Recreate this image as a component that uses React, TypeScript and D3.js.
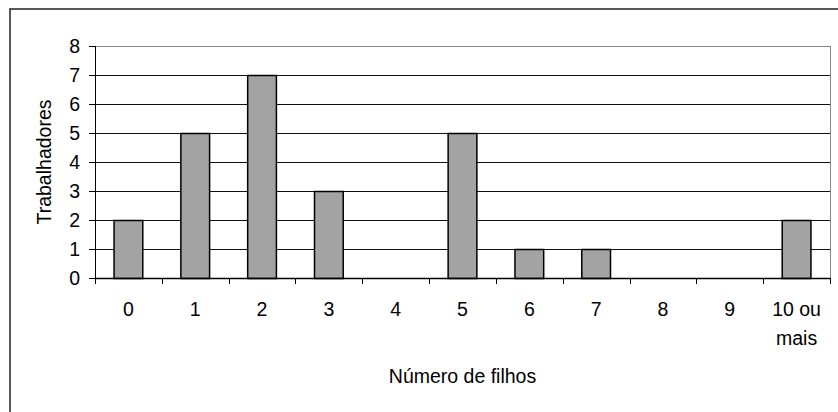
import React from "react";
import * as d3 from "d3";

const categories = ["0", "1", "2", "3", "4", "5", "6", "7", "8", "9", "10 ou|mais"];
const values = [2, 5, 7, 3, 0, 5, 1, 1, 0, 0, 2];
const yTicks = [0, 1, 2, 3, 4, 5, 6, 7, 8];
const xTitle = "Número de filhos";
const yTitle = "Trabalhadores";

export default function App() {
  const W = 838, H = 412;
  const left = 95, right = 830, top = 46, bottom = 278;
  const x = d3.scaleBand<string>().domain(categories).range([left, right]).paddingInner(0).paddingOuter(0);
  const y = d3.scaleLinear().domain([0, 8]).range([bottom, top]);
  const barW = x.bandwidth() * 0.43;
  const font = "Arial, 'Liberation Sans', sans-serif";
  const fs = 19.5;
  const h = 0.5;

  return (
    <svg width={W} height={H} style={{ position: "absolute", left: 0, top: 0, background: "#fff" }} fontFamily={font}>
      <rect x={10} y={9} width={850} height={450} fill="#fff" stroke="#222" strokeWidth={1.5} />
      {/* plot area border */}
      <rect x={left + h} y={top + h} width={right - left} height={bottom - top} fill="none" stroke="#888" strokeWidth={1} />
      {/* gridlines */}
      {yTicks.filter(t => t > 0 && t < 8).map(t => (
        <line key={t} x1={left} x2={right} y1={y(t) + h} y2={y(t) + h} stroke="#111" strokeWidth={1} />
      ))}
      {/* bars */}
      {categories.map((c, i) => values[i] > 0 ? (
        <rect key={c} x={x(c)! + (x.bandwidth() - barW) / 2} y={y(values[i]) + h} width={barW}
          height={bottom - y(values[i])} fill="#a3a3a3" stroke="#000" strokeWidth={1.5} />
      ) : null)}
      {/* axes */}
      <line x1={left + h} x2={left + h} y1={top} y2={bottom + 6} stroke="#000" strokeWidth={1} />
      <line x1={left} x2={right} y1={bottom + h} y2={bottom + h} stroke="#000" strokeWidth={1.3} />
      {yTicks.map(t => (
        <g key={t}>
          <line x1={left - 6} x2={left} y1={y(t) + h} y2={y(t) + h} stroke="#000" />
          <text x={80} y={y(t)} dy="0.36em" textAnchor="end" fontSize={fs}>{t}</text>
        </g>
      ))}
      {categories.map((c, i) => (
        <line key={"t" + i} x1={Math.round(x(c)!) + h} x2={Math.round(x(c)!) + h} y1={bottom} y2={bottom + 6} stroke="#000" />
      ))}
      <line x1={right + h} x2={right + h} y1={bottom} y2={bottom + 6} stroke="#000" />
      {categories.map(c => {
        const lines = c.split("|");
        const cx = x(c)! + x.bandwidth() / 2;
        return (
          <text key={"l" + c} x={cx} y={316} textAnchor="middle" fontSize={fs}>
            {lines.map((l, j) => (
              <tspan key={j} x={cx} dy={j === 0 ? 0 : 29}>{l}</tspan>
            ))}
          </text>
        );
      })}
      <text x={(left + right) / 2} y={383} textAnchor="middle" fontSize={fs}>{xTitle}</text>
      <text transform={`translate(51, ${(top + bottom) / 2}) rotate(-90)`} textAnchor="middle" fontSize={fs}>{yTitle}</text>
    </svg>
  );
}
